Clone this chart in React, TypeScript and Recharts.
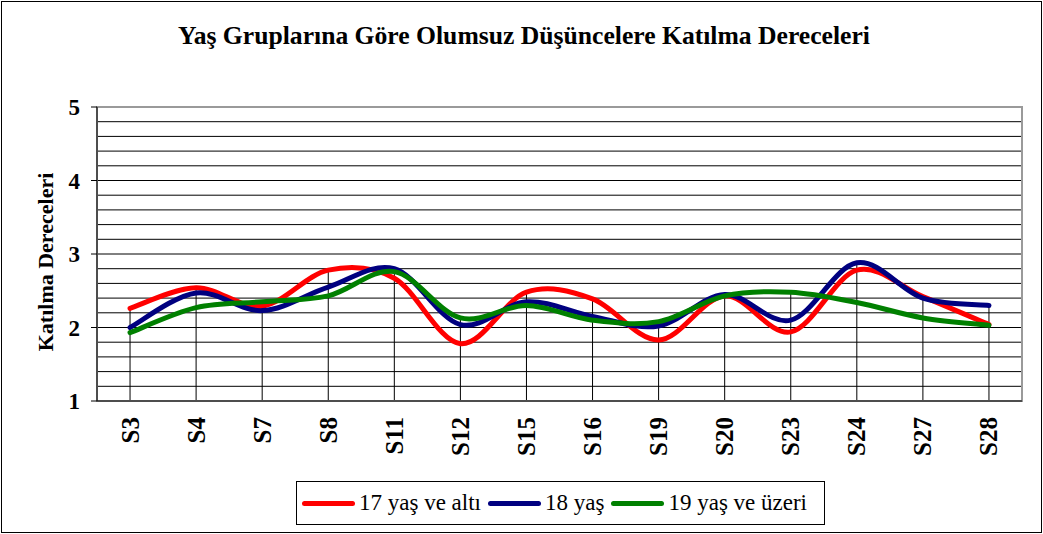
import React from 'react'
import { LineChart, Line, XAxis, YAxis, CartesianGrid, ReferenceLine, ReferenceArea } from 'recharts'

const FONT = '"Liberation Serif", "Times New Roman", serif'

const cats = ['S3', 'S4', 'S7', 'S8', 'S11', 'S12', 'S15', 'S16', 'S19', 'S20', 'S23', 'S24', 'S27', 'S28']
const under17 = [2.26, 2.54, 2.29, 2.78, 2.67, 1.78, 2.48, 2.39, 1.83, 2.43, 1.94, 2.78, 2.42, 2.04]
const age18 = [2.0, 2.47, 2.23, 2.55, 2.8, 2.04, 2.35, 2.15, 2.02, 2.45, 2.1, 2.88, 2.4, 2.3]
const over19 = [1.93, 2.27, 2.35, 2.43, 2.76, 2.13, 2.3, 2.1, 2.08, 2.43, 2.48, 2.34, 2.13, 2.03]

const yTicks = [1, 2, 3, 4, 5]
const gridLevels = [1.2, 1.4, 1.6, 1.8, 2, 2.2, 2.4, 2.6, 2.8, 3, 3.2, 3.4, 3.6, 3.8, 4, 4.2, 4.4, 4.6, 4.8]

const series = [
  { key: 'under17', name: '17 yaş ve altı', color: '#FF0000' },
  { key: 'age18', name: '18 yaş', color: '#000080' },
  { key: 'over19', name: '19 yaş ve üzeri', color: '#008000' },
]

const rows = cats.map((c, i) => ({
  i,
  name: c,
  under17: under17[i],
  age18: age18[i],
  over19: over19[i],
  top: Math.max(under17[i], age18[i], over19[i]),
}))

const catTicks = cats.map((_, i) => i)
const edgeTicks = [...cats.map((_, i) => i - 0.5), cats.length - 0.5]
const xDomain = [-0.5, cats.length - 0.5]

// Excel-style smoothing: bezier with control points at 1/6 of neighbour span
const excelSmooth = (context: any) => {
  let pts: number[][] = []
  return {
    areaStart() {},
    areaEnd() {},
    lineStart() {
      pts = []
    },
    point(x: number, y: number) {
      pts.push([+x, +y])
    },
    lineEnd() {
      const n = pts.length
      if (!n) return
      context.moveTo(pts[0][0], pts[0][1])
      for (let k = 0; k < n - 1; k++) {
        const p0 = pts[Math.max(k - 1, 0)]
        const p1 = pts[k]
        const p2 = pts[k + 1]
        const p3 = pts[Math.min(k + 2, n - 1)]
        context.bezierCurveTo(
          p1[0] + (p2[0] - p0[0]) / 6,
          p1[1] + (p2[1] - p0[1]) / 6,
          p2[0] - (p3[0] - p1[0]) / 6,
          p2[1] - (p3[1] - p1[1]) / 6,
          p2[0],
          p2[1]
        )
      }
    },
  }
}

const CatTick = ({ x, y, payload }: any) => (
  <text
    x={x}
    y={y + 15}
    transform={`rotate(-90, ${x}, ${y + 15})`}
    textAnchor="end"
    dominantBaseline="central"
    fontSize={25}
    fontWeight="bold"
    fontFamily={FONT}
    fill="#000"
  >
    {cats[payload.value]}
  </text>
)

function Legend() {
  return (
    <div
      style={{
        position: 'absolute',
        left: 296,
        top: 481,
        width: 522,
        height: 42,
        border: '1px solid #000',
        display: 'flex',
        alignItems: 'center',
        paddingLeft: 5,
        boxSizing: 'content-box',
        fontFamily: FONT,
        fontSize: 23,
        color: '#000',
        whiteSpace: 'nowrap',
      }}
    >
      {series.map(s => (
        <div key={s.key} style={{ display: 'flex', alignItems: 'center', marginRight: 7 }}>
          <span style={{ display: 'inline-block', width: 53, height: 5, borderRadius: 3, background: s.color }} />
          <span style={{ marginLeft: 4 }}>{s.name}</span>
        </div>
      ))}
    </div>
  )
}

export default function App() {
  return (
    <div
      style={{
        position: 'absolute',
        left: 0,
        top: 0,
        width: 1043,
        height: 534,
        background: '#fff',
        overflow: 'hidden',
      }}
    >
      <div
        style={{
          position: 'absolute',
          left: 1,
          top: 1,
          width: 1039,
          height: 530,
          border: '1px solid #000',
        }}
      />
      <svg width={1043} height={534} style={{ position: 'absolute', left: 0, top: 0 }}>
        <text
          x={524}
          y={44}
          textAnchor="middle"
          fontSize={26}
          fontWeight="bold"
          fontFamily={FONT}
          textLength={692}
          lengthAdjust="spacingAndGlyphs"
        >
          Yaş Gruplarına Göre Olumsuz Düşüncelere Katılma Dereceleri
        </text>
        <text
          x={45}
          y={262}
          transform="rotate(-90, 45, 262)"
          textAnchor="middle"
          dominantBaseline="central"
          fontSize={22}
          fontWeight="bold"
          fontFamily={FONT}
        >
          Katılma Dereceleri
        </text>
      </svg>
      <div style={{ position: 'absolute', left: 0, top: 0 }}>
        <LineChart width={1043} height={534} data={rows} margin={{ top: 107, right: 21, bottom: 131, left: 67 }}>
          <CartesianGrid horizontalValues={gridLevels} vertical={false} stroke="#000" strokeWidth={1} />
          <ReferenceArea
            xAxisId="edges"
            x1={xDomain[0]}
            x2={xDomain[1]}
            y1={1}
            y2={5}
            fill="none"
            stroke="#9a9a9a"
            strokeWidth={2}
            ifOverflow="visible"
          />
          {rows.map(r => (
            <ReferenceLine
              key={r.name}
              xAxisId="edges"
              segment={[
                { x: r.i, y: 1 },
                { x: r.i, y: r.top },
              ]}
              stroke="#000"
              strokeWidth={1}
              zIndex={-50}
            />
          ))}
          <XAxis
            xAxisId="edges"
            dataKey="i"
            type="number"
            domain={xDomain}
            ticks={edgeTicks}
            interval={0}
            allowDataOverflow
            tick={false}
            tickSize={5}
            height={1}
            axisLine={{ stroke: '#000', strokeWidth: 1 }}
            tickLine={{ stroke: '#000' }}
          />
          <XAxis
            xAxisId="labels"
            dataKey="i"
            type="number"
            domain={xDomain}
            ticks={catTicks}
            interval={0}
            allowDataOverflow
            tick={<CatTick />}
            tickSize={0}
            tickMargin={0}
            tickLine={false}
            axisLine={false}
            height={1}
          />
          <YAxis
            domain={[1, 5]}
            ticks={yTicks}
            interval={0}
            width={30}
            tickSize={6}
            tickMargin={11}
            axisLine={{ stroke: '#000', strokeWidth: 1 }}
            tickLine={{ stroke: '#000' }}
            tick={{ fontSize: 23, fontWeight: 'bold', fill: '#000', fontFamily: FONT }}
          />
          {series.map(s => (
            <Line
              key={s.key}
              xAxisId="labels"
              dataKey={s.key}
              name={s.name}
              type={excelSmooth as any}
              stroke={s.color}
              strokeWidth={5}
              strokeLinecap="round"
              strokeLinejoin="round"
              dot={false}
              activeDot={false}
              isAnimationActive={false}
            />
          ))}
        </LineChart>
      </div>
      <Legend />
    </div>
  )
}
